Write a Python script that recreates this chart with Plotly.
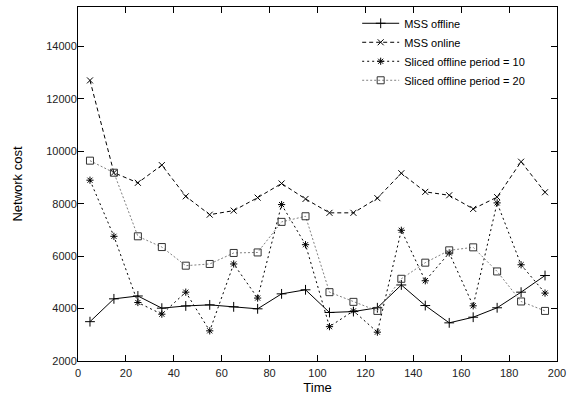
import plotly.graph_objects as go

time = [5, 15, 25, 35, 45, 55, 65, 75, 85, 95, 105, 115, 125, 135, 145, 155, 165, 175, 185, 195]
mss_offline = [3500, 4370, 4480, 4015, 4100, 4140, 4065, 3990, 4560, 4715, 3850, 3885, 4030, 4900, 4115, 3455, 3670, 4030, 4625, 5260]
mss_online = [12700, 9180, 8795, 9470, 8280, 7580, 7735, 8230, 8770, 8180, 7650, 7650, 8210, 9160, 8450, 8320, 7800, 8250, 9600, 8435]
sliced_10 = [8895, 6755, 4230, 3785, 4625, 3150, 5700, 4400, 7965, 6435, 3310, 3910, 3100, 6985, 5060, 6120, 4105, 8030, 5670, 4590]
sliced_20 = [9640, 9180, 6755, 6345, 5635, 5700, 6120, 6140, 7305, 7520, 4625, 4255, 3910, 5135, 5750, 6220, 6335, 5415, 4270, 3910]

series = [
    ("MSS offline", mss_offline, dict(color="black", width=1, dash="solid"), "cross-thin-open", "black", 7),
    ("MSS online", mss_online, dict(color="black", width=1, dash="4px,3px"), "x-thin-open", "black", 6),
    ("Sliced offline period = 10", sliced_10, dict(color="black", width=1, dash="2px,3px"), "asterisk-open", "black", 6),
    ("Sliced offline period = 20", sliced_20, dict(color="#808080", width=1, dash="2px,2px"), "square-open", "#333333", 7),
]

fig = go.Figure()
for name, ys, line, sym, mcol, msize in series:
    fig.add_trace(go.Scatter(
        x=time, y=ys, name=name, mode="lines+markers", line=line,
        marker=dict(symbol=sym, size=msize, color=mcol, line=dict(width=1, color=mcol)),
    ))

axis_common = dict(
    showline=True, linecolor="black", linewidth=1, mirror="ticks",
    ticks="inside", ticklen=6, tickcolor="black", showgrid=False, zeroline=False,
    tickfont=dict(size=11, color="#222222"), tickformat="d", automargin=False,
)
fig.update_layout(
    width=581, height=396,
    margin=dict(l=78, r=24, t=7, b=35),
    paper_bgcolor="white", plot_bgcolor="white",
    font=dict(family="Liberation Sans, Arial, sans-serif", size=11, color="black"),
    xaxis=dict(range=[0, 200], dtick=20, ticklabelstandoff=2,
               title=dict(text="Time", standoff=4), **axis_common),
    yaxis=dict(range=[2000, 15500], tick0=2000, dtick=2000, ticklabelstandoff=-2,
               title=dict(text="Network cost", standoff=20), **axis_common),
    legend=dict(x=0.944, y=0.995, xanchor="right", yanchor="top", bgcolor="rgba(0,0,0,0)",
                font=dict(size=11), tracegroupgap=0, itemwidth=37),
    showlegend=True,
)
fig.write_html("out.html", config={"displayModeBar": False},
               post_script="document.body.style.margin='0';")
